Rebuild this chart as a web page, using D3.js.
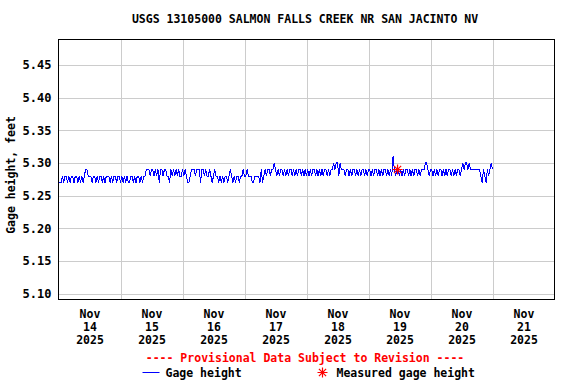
<!DOCTYPE html>
<html>
<head>
<meta charset="utf-8">
<script src="https://cdn.jsdelivr.net/npm/d3@7"></script>
<style>
  body { margin: 0; background: #fff; }
  text { font-family: "DejaVu Sans Mono", "Liberation Mono", monospace; font-weight: bold; }
</style>
</head>
<body>
<div class="root"></div>
<script>
const width = 576;
const height = 384;
const plot = { left: 58.5, right: 554.5, top: 39.5, bottom: 299.5 };

const title = "USGS 13105000 SALMON FALLS CREEK NR SAN JACINTO NV";
const dayNames = ["14", "15", "16", "17", "18", "19", "20", "21"];
const yTicks = [5.10, 5.15, 5.20, 5.25, 5.30, 5.35, 5.40, 5.45];

// gage height levels, each digit below points into this list
const levels = [5.27, 5.28, 5.29, 5.30, 5.31];
// one string per day (Nov 14 .. Nov 20), one digit per 30 minutes
const gageDays = [
  "000101101011011010101221" + "110110101101011101011011" + "0",
  "101010011010110101122212" + "212120221221102121212112",
  "121001222122202212112101" + "211010101101210101101121",
  "121110011110201212212232" + "121221212122121212212121",
  "212122121212122121223233" + "132221221212212121221212",
  "212122121212212121421221" + "212122121212212122233212",
  "212121221212122121212212" + "323323222222221021021232"
];
const measured = [{ time: "2025-11-19T11:15", value: 5.29 }];

const parseTime = d3.utcParse("%Y-%m-%dT%H:%M");
const start = parseTime("2025-11-14T00:00");

const gage = [];
gageDays.join("").split("").forEach((c, i) => {
  gage.push({ time: d3.utcMinute.offset(start, i * 30), value: levels[+c] });
});

const x = d3.scaleUtc()
  .domain([start, parseTime("2025-11-22T00:00")])
  .range([plot.left, plot.right]);
const y = d3.scaleLinear()
  .domain([5.091, 5.489])
  .range([plot.bottom, plot.top]);

const svg = d3.select(".root")
  .append("svg")
  .attr("width", width)
  .attr("height", height)
  .attr("viewBox", [0, 0, width, height]);

// grid
const grid = svg.append("g")
  .attr("stroke", "#cccccc")
  .attr("stroke-width", 1)
  .attr("shape-rendering", "crispEdges");
grid.selectAll(".hg")
  .data(yTicks)
  .join("line")
  .attr("x1", plot.left)
  .attr("x2", plot.right)
  .attr("y1", (d) => Math.round(y(d)) + 0.5)
  .attr("y2", (d) => Math.round(y(d)) + 0.5);
grid.selectAll(".vg")
  .data(d3.utcDay.range(d3.utcDay.offset(start, 1), x.domain()[1]))
  .join("line")
  .attr("x1", (d) => Math.round(x(d)) + 0.5)
  .attr("x2", (d) => Math.round(x(d)) + 0.5)
  .attr("y1", plot.top)
  .attr("y2", plot.bottom);

// y axis
const yAxis = svg.append("g")
  .attr("transform", `translate(${plot.left},0)`)
  .call(d3.axisLeft(y).tickValues(yTicks).tickFormat(d3.format(".2f")).tickSize(0).tickPadding(7));
yAxis.select(".domain").remove();
yAxis.selectAll("text")
  .attr("font-family", null)
  .attr("font-size", 12)
  .attr("fill", "#000");

// x axis, labels centred on each day
const noons = d3.utcDay.range(start, x.domain()[1]).map((d) => d3.utcHour.offset(d, 12));
const xAxis = svg.append("g")
  .attr("transform", `translate(0,${plot.bottom})`)
  .call(d3.axisBottom(x).tickValues(noons).tickFormat(() => "").tickSize(0));
xAxis.select(".domain").remove();
xAxis.selectAll(".tick text")
  .attr("font-family", null)
  .attr("font-size", 11.5)
  .attr("fill", "#000")
  .attr("y", 0)
  .attr("dy", null)
  .each(function (d, i) {
    const t = d3.select(this);
    ["Nov", dayNames[i], "2025"].forEach((s, k) => {
      t.append("tspan").attr("x", 0).attr("y", 18.5 + k * 13).text(s);
    });
  });

// frame
svg.append("rect")
  .attr("x", plot.left)
  .attr("y", plot.top)
  .attr("width", plot.right - plot.left)
  .attr("height", plot.bottom - plot.top)
  .attr("fill", "none")
  .attr("stroke", "#000")
  .attr("shape-rendering", "crispEdges");

// gage height line
const line = d3.line()
  .x((d) => x(d.time))
  .y((d) => y(d.value));
svg.append("path")
  .datum(gage)
  .attr("d", line)
  .attr("fill", "none")
  .attr("stroke", "#0000ff")
  .attr("stroke-width", 1)
  .attr("shape-rendering", "crispEdges");

function star(g, cx, cy, r) {
  const a = r * 0.72;
  g.append("path")
    .attr("d", `M${cx - r},${cy}H${cx + r}M${cx},${cy - r}V${cy + r}` +
      `M${cx - a},${cy - a}L${cx + a},${cy + a}M${cx - a},${cy + a}L${cx + a},${cy - a}`)
    .attr("stroke", "#ff0000")
    .attr("stroke-width", 1.2)
    .attr("fill", "none");
}

measured.forEach((m) => star(svg, x(parseTime(m.time)), y(m.value), 5));

// titles
svg.append("text")
  .attr("x", 305)
  .attr("y", 23)
  .attr("text-anchor", "middle")
  .attr("font-size", 11.5)
  .text(title);

svg.append("text")
  .attr("transform", "translate(15,175) rotate(-90)")
  .attr("text-anchor", "middle")
  .attr("font-size", 11.5)
  .text("Gage height, feet");

// legend
svg.append("text")
  .attr("x", 305)
  .attr("y", 362)
  .attr("text-anchor", "middle")
  .attr("font-size", 11.5)
  .attr("fill", "#ff0000")
  .text("---- Provisional Data Subject to Revision ----");

svg.append("line")
  .attr("x1", 142.5)
  .attr("x2", 159.5)
  .attr("y1", 372.5)
  .attr("y2", 372.5)
  .attr("stroke", "#0000ff");
svg.append("text")
  .attr("x", 165.5)
  .attr("y", 376.5)
  .attr("font-size", 11.5)
  .text("Gage height");

star(svg, 322.5, 372.5, 5);
svg.append("text")
  .attr("x", 336.5)
  .attr("y", 376.5)
  .attr("font-size", 11.5)
  .text("Measured gage height");
</script>
</body>
</html>
